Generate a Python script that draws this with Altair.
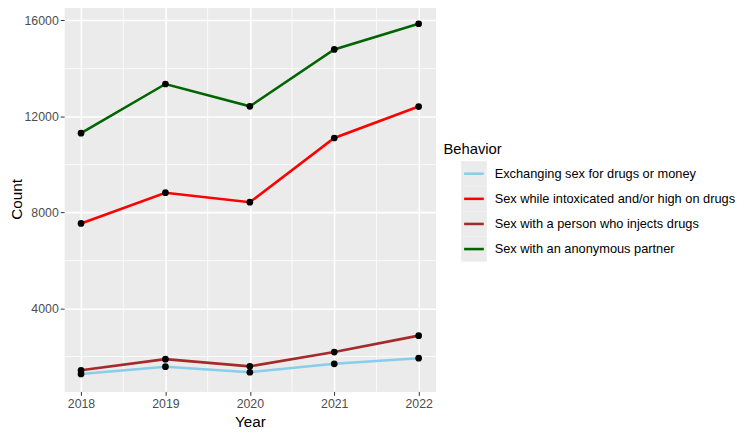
import altair as alt
import pandas as pd

years = [2018, 2019, 2020, 2021, 2022]
behaviors = [
    "Exchanging sex for drugs or money",
    "Sex while intoxicated and/or high on drugs",
    "Sex with a person who injects drugs",
    "Sex with an anonymous partner",
]
exchanging = [1270, 1570, 1340, 1690, 1925]
intoxicated = [7540, 8820, 8425, 11100, 12410]
injects = [1420, 1885, 1585, 2180, 2865]
anonymous = [11300, 13350, 12420, 14790, 15860]
colors = ["#87CEEB", "#FF0000", "#A52A2A", "#006400"]

y_ticks = [4000, 8000, 12000, 16000]
y_minor = [2000, 6000, 10000, 14000]
x_minor = [2018.5, 2019.5, 2020.5, 2021.5]

series = [exchanging, intoxicated, injects, anonymous]
rows = []
for b, vals in zip(behaviors, series):
    for yr, v in zip(years, vals):
        rows.append({"Year": yr, "Behavior": b, "Count": v})
df = pd.DataFrame(rows)

FONT = "Liberation Sans"
color_scale = alt.Scale(domain=behaviors, range=colors)
x_scale = alt.Scale(domain=[2017.8, 2022.2], nice=False, zero=False)
y_scale = alt.Scale(domain=[540, 16590], nice=False, zero=False)

base = alt.Chart(df)

lines = base.mark_line(strokeWidth=2.6).encode(
    x=alt.X("Year:Q", scale=x_scale,
            axis=alt.Axis(values=years, format="d", title="Year",
                          labelPadding=2, titlePadding=5)),
    y=alt.Y("Count:Q", scale=y_scale,
            axis=alt.Axis(values=y_ticks, format="d", title="Count",
                          labelPadding=2, titlePadding=0)),
    color=alt.Color("Behavior:N", scale=color_scale, legend=None),
)
points = base.mark_circle(size=46, color="black", opacity=1).encode(
    x=alt.X("Year:Q", scale=x_scale),
    y=alt.Y("Count:Q", scale=y_scale),
)
minor_h = alt.Chart(pd.DataFrame({"v": y_minor})).mark_rule(
    color="white", strokeWidth=0.8
).encode(y=alt.Y("v:Q", scale=y_scale))
minor_v = alt.Chart(pd.DataFrame({"v": x_minor})).mark_rule(
    color="white", strokeWidth=0.8
).encode(x=alt.X("v:Q", scale=x_scale))

main = alt.layer(minor_h, minor_v, lines, points).properties(
    width=377, height=391,
    view=alt.ViewBackground(fill="#EBEBEB", stroke="transparent"),
)

# custom legend (vertical slots: blanks above and below to centre it)
title_text = "Behavior"
blanks_top = [" " * k for k in range(1, 6)]
blanks_bottom = [" " * k for k in range(6, 11)]
leg_domain = blanks_top + [title_text] + behaviors + blanks_bottom
leg_df = pd.DataFrame({"label": behaviors})
leg_y_scale = alt.Scale(domain=leg_domain, paddingInner=0, paddingOuter=0.17)
leg_base = alt.Chart(leg_df)
leg_rect = leg_base.mark_rect(color="#EBEBEB").encode(
    y=alt.Y("label:N", scale=leg_y_scale, axis=None),
    x=alt.value(18), x2=alt.value(44),
)
leg_rule = leg_base.mark_rule(strokeWidth=2.6).encode(
    y=alt.Y("label:N", scale=leg_y_scale, axis=None),
    x=alt.value(21), x2=alt.value(41),
    color=alt.Color("label:N", scale=color_scale, legend=None),
)
leg_text = leg_base.mark_text(align="left", baseline="middle", fontSize=13,
                              font=FONT, color="black").encode(
    y=alt.Y("label:N", scale=leg_y_scale, axis=None),
    x=alt.value(52),
    text="label:N",
)
leg_title = alt.Chart(pd.DataFrame({"label": [title_text]})).mark_text(
    align="left", baseline="middle", fontSize=15, font=FONT, color="black"
).encode(
    y=alt.Y("label:N", scale=leg_y_scale, axis=None),
    x=alt.value(0),
    text="label:N",
)
legend = alt.layer(leg_rect, leg_rule, leg_text, leg_title).properties(
    width=290, height=391,
    view=alt.ViewBackground(stroke="transparent"),
)

chart = alt.hconcat(main, legend, spacing=6).resolve_scale(
    color="shared"
).properties(
    padding={"top": -6, "left": 0, "right": 0, "bottom": 0},
).configure(
    font=FONT, background="white"
).configure_axis(
    domain=False,
    grid=True,
    gridColor="white",
    gridWidth=1.6,
    tickColor="#333333",
    tickSize=4,
    tickWidth=1,
    labelColor="#4D4D4D",
    labelFontSize=12.5,
    labelFont=FONT,
    titleFont=FONT,
    titleFontSize=15.5,
    titleFontWeight="normal",
    titleColor="black",
)

chart.save("out.html", embed_options={"renderer": "svg", "actions": False})
